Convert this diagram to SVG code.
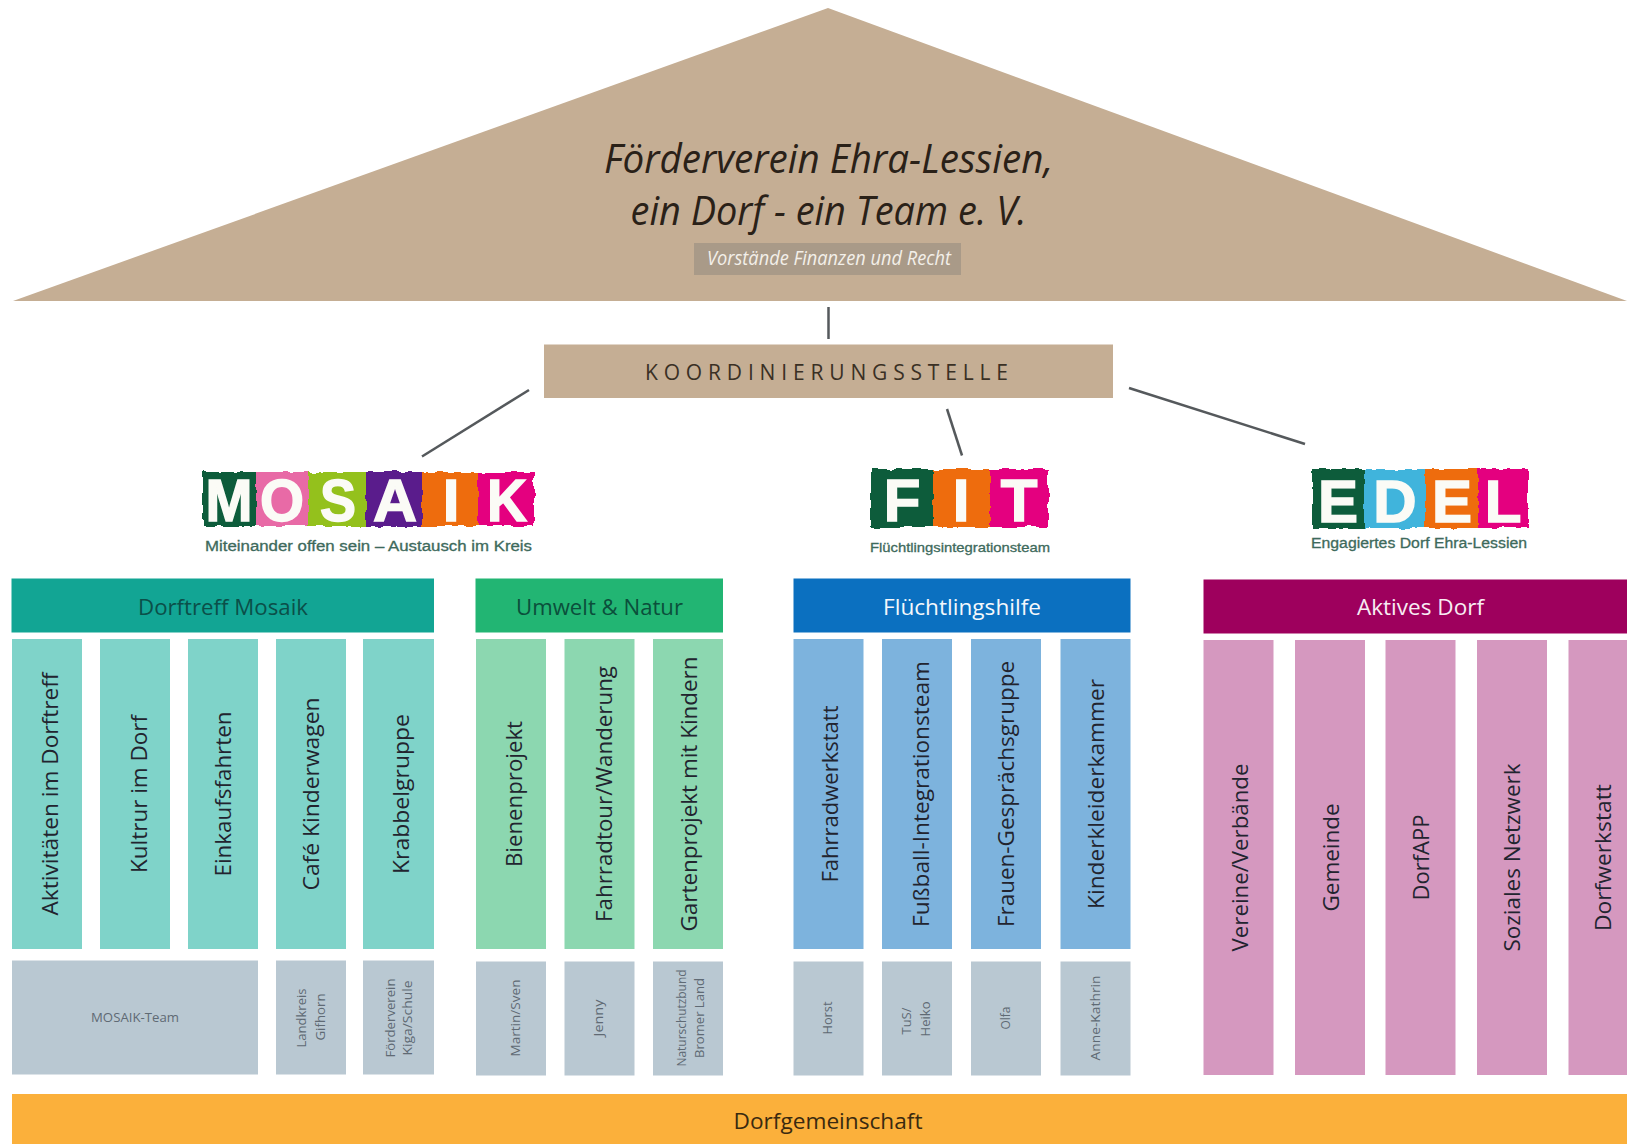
<svg xmlns="http://www.w3.org/2000/svg" width="1627" height="1144" viewBox="0 0 1627 1144">
<defs>
<filter id="rough" x="-5%" y="-5%" width="110%" height="110%"><feTurbulence type="fractalNoise" baseFrequency="0.09" numOctaves="2" seed="4"/><feDisplacementMap in="SourceGraphic" scale="6" xChannelSelector="R" yChannelSelector="G"/></filter>
</defs>
<style>
text{font-family:"Open Sans","Noto Sans",sans-serif}
.c{text-anchor:middle}
.col{font-size:22px;font-weight:500;fill:#22242f;text-anchor:middle}
.hd{font-size:22.500px;font-weight:500;text-anchor:middle}
.sm{font-size:12.500px;fill:#5f6a74;text-anchor:middle}
.lg{font-family:"Liberation Sans",Arial,sans-serif;font-size:60px;font-weight:700;fill:#fbfbf6;stroke:#fbfbf6;stroke-width:1.500;text-anchor:middle}
.sub{font-family:"Liberation Sans",Arial,sans-serif;fill:#3e6a5c;stroke:#3e6a5c;stroke-width:.3;font-size:14px}
.lk{stroke:#55595c;stroke-width:2.500;fill:none}
.t{fill:#7fd3c9}.g{fill:#8cd7b0}.b{fill:#7db3dd}.p{fill:#d598bf}.y{fill:#b9c8d2}
</style>
<rect width="1627" height="1144" fill="#fff"/>
<g id="connectors">
<line class="lk" x1="828.500" y1="307" x2="828.500" y2="339"/>
<line class="lk" x1="529" y1="390" x2="422" y2="456.500"/>
<line class="lk" x1="947" y1="409" x2="962" y2="455.500"/>
<line class="lk" x1="1129" y1="388" x2="1305" y2="444"/>
</g>
<g id="roof">
<polygon points="828,8 1627,301 13,301" fill="#c5ae94"/>
<text class="c" x="828.500" y="173" font-size="41" font-style="italic" fill="#2a2118" textLength="449" lengthAdjust="spacingAndGlyphs">Förderverein Ehra-Lessien,</text>
<text class="c" x="828.500" y="225" font-size="41" font-style="italic" fill="#2a2118" textLength="396" lengthAdjust="spacingAndGlyphs">ein Dorf - ein Team e. V.</text>
<rect x="694" y="243" width="267" height="32" fill="#a99a88"/>
<text class="c" x="829" y="265" font-size="20" font-style="italic" fill="#f3efe9" textLength="244" lengthAdjust="spacingAndGlyphs">Vorstände Finanzen und Recht</text>
</g>
<g id="koordinierungsstelle">
<rect x="544" y="344.500" width="569" height="53.500" fill="#c5ae94"/>
<text x="645" y="380" font-size="21" fill="#3a3024" textLength="363">KOORDINIERUNGSSTELLE</text>
</g>
<g id="logo-mosaik">
<g filter="url(#rough)">
<rect x="203" y="472" width="54" height="54" fill="#0d5c3a"/>
<rect x="256" y="472" width="53" height="54" fill="#e86aa6"/>
<rect x="308" y="472" width="59" height="54" fill="#94c11f"/>
<rect x="366" y="472" width="57" height="54" fill="#5a1f8c"/>
<rect x="422" y="472" width="57" height="54" fill="#ee6c0e"/>
<rect x="478" y="472" width="56" height="54" fill="#e4007f"/>
</g>
<text class="lg" x="229" y="521" textLength="47" lengthAdjust="spacingAndGlyphs">M</text>
<text class="lg" x="282" y="521" textLength="44" lengthAdjust="spacingAndGlyphs">O</text>
<text class="lg" x="338" y="521" textLength="36" lengthAdjust="spacingAndGlyphs">S</text>
<text class="lg" x="395" y="521" textLength="44" lengthAdjust="spacingAndGlyphs">A</text>
<text class="lg" x="451" y="521">I</text>
<text class="lg" x="507" y="521" textLength="40" lengthAdjust="spacingAndGlyphs">K</text>
<text class="sub" x="205" y="551" textLength="327" lengthAdjust="spacingAndGlyphs">Miteinander offen sein – Austausch im Kreis</text>
</g>
<g id="logo-fit">
<g filter="url(#rough)">
<rect x="871" y="469" width="63" height="58" fill="#0d5c3a"/>
<rect x="933" y="469" width="58" height="58" fill="#ee6c0e"/>
<rect x="990" y="469" width="58" height="58" fill="#e4007f"/>
</g>
<text class="lg" x="902" y="521">F</text>
<text class="lg" x="961" y="521">I</text>
<text class="lg" x="1019" y="521">T</text>
<text class="sub" x="870" y="552" style="font-size:13px" textLength="180" lengthAdjust="spacingAndGlyphs">Flüchtlingsintegrationsteam</text>
</g>
<g id="logo-edel">
<g filter="url(#rough)">
<rect x="1312" y="469" width="53" height="59" fill="#0d5c3a"/>
<rect x="1364" y="469" width="62" height="59" fill="#3fb4dc"/>
<rect x="1425" y="469" width="54" height="59" fill="#ee6c0e"/>
<rect x="1478" y="469" width="50" height="59" fill="#e4007f"/>
</g>
<text class="lg" x="1338" y="522">E</text>
<text class="lg" x="1395" y="522">D</text>
<text class="lg" x="1452" y="522">E</text>
<text class="lg" x="1503" y="522">L</text>
<text class="sub" x="1311" y="548" textLength="216" lengthAdjust="spacingAndGlyphs">Engagiertes Dorf Ehra-Lessien</text>
</g>
<g id="dorftreff-mosaik">
<rect x="11.500" y="578.500" width="422.500" height="54" fill="#12a594"/>
<text class="hd" x="223" y="615" fill="#0b4f49" textLength="170" lengthAdjust="spacingAndGlyphs">Dorftreff Mosaik</text>
<rect class="t" x="12" y="639" width="70" height="310"/><rect class="t" x="100" y="639" width="70" height="310"/><rect class="t" x="188" y="639" width="70" height="310"/><rect class="t" x="276" y="639" width="70" height="310"/><rect class="t" x="363" y="639" width="71" height="310"/>
<text class="col" transform="translate(58,794) rotate(-90)" textLength="243" lengthAdjust="spacingAndGlyphs">Aktivitäten im Dorftreff</text>
<text class="col" transform="translate(147,794) rotate(-90)" textLength="158" lengthAdjust="spacingAndGlyphs">Kultrur im Dorf</text>
<text class="col" transform="translate(231,794) rotate(-90)" textLength="165" lengthAdjust="spacingAndGlyphs">Einkaufsfahrten</text>
<text class="col" transform="translate(319,794) rotate(-90)" textLength="193" lengthAdjust="spacingAndGlyphs">Café Kinderwagen</text>
<text class="col" transform="translate(409,794) rotate(-90)" textLength="160" lengthAdjust="spacingAndGlyphs">Krabbelgruppe</text>
<rect class="y" x="12" y="960.500" width="246" height="114"/><rect class="y" x="276" y="960.500" width="70" height="114"/><rect class="y" x="363" y="960.500" width="71" height="114"/>
<text class="sm" x="135" y="1022" textLength="88" lengthAdjust="spacingAndGlyphs">MOSAIK-Team</text>
<text class="sm" transform="translate(306,1018) rotate(-90)" textLength="59" lengthAdjust="spacingAndGlyphs">Landkreis</text>
<text class="sm" transform="translate(325,1017) rotate(-90)" textLength="47" lengthAdjust="spacingAndGlyphs">Gifhorn</text>
<text class="sm" transform="translate(395,1018) rotate(-90)" textLength="79" lengthAdjust="spacingAndGlyphs">Förderverein</text>
<text class="sm" transform="translate(412,1018) rotate(-90)" textLength="75" lengthAdjust="spacingAndGlyphs">Kiga/Schule</text>
</g>
<g id="umwelt-natur">
<rect x="475.500" y="578.500" width="247.500" height="54" fill="#22b573"/>
<text class="hd" x="599.500" y="615" fill="#0b4f3b" textLength="167" lengthAdjust="spacingAndGlyphs">Umwelt &amp; Natur</text>
<rect class="g" x="476" y="639" width="70" height="310"/><rect class="g" x="564.500" y="639" width="70" height="310"/><rect class="g" x="653" y="639" width="70" height="310"/>
<text class="col" transform="translate(522,794) rotate(-90)" textLength="146" lengthAdjust="spacingAndGlyphs">Bienenprojekt</text>
<text class="col" transform="translate(612,794) rotate(-90)" textLength="256" lengthAdjust="spacingAndGlyphs">Fahrradtour/Wanderung</text>
<text class="col" transform="translate(697,794) rotate(-90)" textLength="275" lengthAdjust="spacingAndGlyphs">Gartenprojekt mit Kindern</text>
<rect class="y" x="476" y="961.500" width="70" height="114"/><rect class="y" x="564.500" y="961.500" width="70" height="114"/><rect class="y" x="653" y="961.500" width="70" height="114"/>
<text class="sm" transform="translate(520,1018) rotate(-90)" textLength="77" lengthAdjust="spacingAndGlyphs">Martin/Sven</text>
<text class="sm" transform="translate(603,1018) rotate(-90)" textLength="37" lengthAdjust="spacingAndGlyphs">Jenny</text>
<text class="sm" transform="translate(686,1018) rotate(-90)" textLength="97" lengthAdjust="spacingAndGlyphs">Naturschutzbund</text>
<text class="sm" transform="translate(704,1018) rotate(-90)" textLength="80" lengthAdjust="spacingAndGlyphs">Bromer Land</text>
</g>
<g id="fluechtlingshilfe">
<rect x="793.500" y="578.500" width="337" height="54" fill="#0b70c0"/>
<text class="hd" x="962" y="615" fill="#f4f8fc" textLength="158" lengthAdjust="spacingAndGlyphs">Flüchtlingshilfe</text>
<rect class="b" x="793.500" y="639" width="70" height="310"/><rect class="b" x="882" y="639" width="70" height="310"/><rect class="b" x="971" y="639" width="70" height="310"/><rect class="b" x="1060.500" y="639" width="70" height="310"/>
<text class="col" transform="translate(838,794) rotate(-90)" textLength="177" lengthAdjust="spacingAndGlyphs">Fahrradwerkstatt</text>
<text class="col" transform="translate(929,794) rotate(-90)" textLength="266" lengthAdjust="spacingAndGlyphs">Fußball-Integrationsteam</text>
<text class="col" transform="translate(1014,794) rotate(-90)" textLength="266" lengthAdjust="spacingAndGlyphs">Frauen-Gesprächsgruppe</text>
<text class="col" transform="translate(1104,794) rotate(-90)" textLength="230" lengthAdjust="spacingAndGlyphs">Kinderkleiderkammer</text>
<rect class="y" x="793.500" y="961.500" width="70" height="114"/><rect class="y" x="882" y="961.500" width="70" height="114"/><rect class="y" x="971" y="961.500" width="70" height="114"/><rect class="y" x="1060.500" y="961.500" width="70" height="114"/>
<text class="sm" transform="translate(832,1018) rotate(-90)" textLength="33" lengthAdjust="spacingAndGlyphs">Horst</text>
<text class="sm" transform="translate(911,1021) rotate(-90)" textLength="27" lengthAdjust="spacingAndGlyphs">TuS/</text>
<text class="sm" transform="translate(930,1019) rotate(-90)" textLength="35" lengthAdjust="spacingAndGlyphs">Heiko</text>
<text class="sm" transform="translate(1010,1018) rotate(-90)" textLength="23" lengthAdjust="spacingAndGlyphs">Olfa</text>
<text class="sm" transform="translate(1100,1018) rotate(-90)" textLength="85" lengthAdjust="spacingAndGlyphs">Anne-Kathrin</text>
</g>
<g id="aktives-dorf">
<rect x="1203.500" y="579.500" width="423.500" height="54" fill="#9e005d"/>
<text class="hd" x="1420.500" y="615" fill="#f8ecf3" textLength="127" lengthAdjust="spacingAndGlyphs">Aktives Dorf</text>
<rect class="p" x="1203.500" y="640" width="70" height="435"/><rect class="p" x="1295" y="640" width="70" height="435"/><rect class="p" x="1385.500" y="640" width="70" height="435"/><rect class="p" x="1477" y="640" width="70" height="435"/><rect class="p" x="1568.500" y="640" width="58.500" height="435"/>
<text class="col" transform="translate(1248,857.500) rotate(-90)" textLength="188" lengthAdjust="spacingAndGlyphs">Vereine/Verbände</text>
<text class="col" transform="translate(1339,857.500) rotate(-90)" textLength="108" lengthAdjust="spacingAndGlyphs">Gemeinde</text>
<text class="col" transform="translate(1429,857.500) rotate(-90)" textLength="86" lengthAdjust="spacingAndGlyphs">DorfAPP</text>
<text class="col" transform="translate(1520,857.500) rotate(-90)" textLength="188" lengthAdjust="spacingAndGlyphs">Soziales Netzwerk</text>
<text class="col" transform="translate(1611,857.500) rotate(-90)" textLength="147" lengthAdjust="spacingAndGlyphs">Dorfwerkstatt</text>
</g>
<g id="dorfgemeinschaft">
<rect x="12" y="1094" width="1615" height="50" fill="#fbb03b"/>
<text class="hd" x="828" y="1129" fill="#3a2a10" textLength="189" lengthAdjust="spacingAndGlyphs">Dorfgemeinschaft</text>
</g>
</svg>
